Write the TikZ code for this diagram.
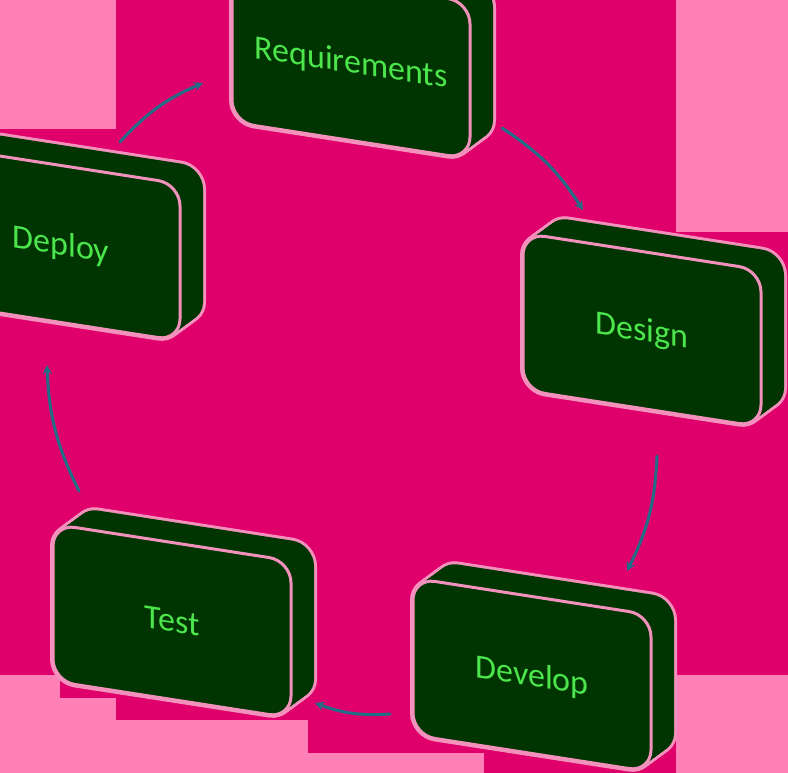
\documentclass[tikz,border=0pt]{standalone}
\usepackage{fontspec}
\setmainfont{Carlito}
\usepackage{xcolor}
\usetikzlibrary{arrows.meta}
\definecolor{bgmagenta}{RGB}{224,0,107}
\definecolor{bgpink}{RGB}{255,128,182}
\definecolor{boxgreen}{RGB}{0,52,0}
\definecolor{rimpink}{RGB}{242,145,188}
\definecolor{labelgreen}{RGB}{76,230,76}
\definecolor{flowteal}{RGB}{35,110,135}

\tikzset{
    rimline/.style={draw=rimpink, line width=6pt, rounded corners=22pt},
    facefill/.style={fill=boxgreen, rounded corners=22pt},
    frontface/.style={fill=boxgreen, draw=rimpink, line width=3pt, rounded corners=22pt},
    phaselabel/.style={text=labelgreen, font=\fontsize{34}{40}\selectfont, anchor=base, inner sep=0pt, transform shape},
    flow/.style={draw=flowteal, line width=3pt, line cap=round, -{Stealth[length=9pt,width=9pt]}, bend left=12},
}

% one 3D phase box: centre x, centre y, node name, label
\newcommand{\phasebox}[4]{%
    \begin{scope}[shift={(#1,#2)}, yslant=-0.155]
        \foreach \k in {0,...,20} {
            \draw[rimline, shift={(1.15*\k,-1.025*\k)}] (-119,-78.5) rectangle (119,78.5);
        }
        \foreach \k in {0,...,20} {
            \fill[facefill, shift={(1.15*\k,-1.025*\k)}] (-119,-78.5) rectangle (119,78.5);
        }
        \draw[frontface] (-119,-78.5) rectangle (119,78.5);
        \node[phaselabel] (#3) at (0,11) {#4};
    \end{scope}
}

\begin{document}
\begin{tikzpicture}[x=1pt, y=-1pt]
    \useasboundingbox (0,0) rectangle (788,773);
    \clip (0,0) rectangle (788,773);

    % --- Background ---
    \fill[bgmagenta] (0,0) rectangle (788,773);
    \fill[bgpink] (0,0) rectangle (116,129);
    \fill[bgpink] (676,0) rectangle (788,232);
    \fill[bgpink] (0,675) rectangle (60,773);
    \fill[bgpink] (60,698) rectangle (116,773);
    \fill[bgpink] (116,720) rectangle (308,773);
    \fill[bgpink] (308,753) rectangle (484,773);
    \fill[bgpink] (676,675) rectangle (788,773);

    % --- Phase boxes ---
    \phasebox{351}{62}{req}{Requirements}
    \phasebox{642}{330}{des}{Design}
    \phasebox{532}{675}{dev}{Develop}
    \phasebox{172}{621}{tst}{Test}
    \phasebox{61}{244}{dep}{Deploy}

    % --- Cycle arrows ---
    \coordinate (dep-out) at (120,142);
    \coordinate (req-in)  at (203,83);
    \coordinate (req-out) at (502,128);
    \coordinate (des-in)  at (583,210);
    \coordinate (des-out) at (657,456);
    \coordinate (dev-in)  at (627,571);
    \coordinate (dev-out) at (390,714);
    \coordinate (tst-in)  at (315,703);
    \coordinate (tst-out) at (79,491);
    \coordinate (dep-in)  at (47,365);

    \draw[flow] (dep-out) to (req-in);
    \draw[flow] (req-out) to (des-in);
    \draw[flow] (des-out) to (dev-in);
    \draw[flow] (dev-out) to (tst-in);
    \draw[flow] (tst-out) to (dep-in);
\end{tikzpicture}
\end{document}
